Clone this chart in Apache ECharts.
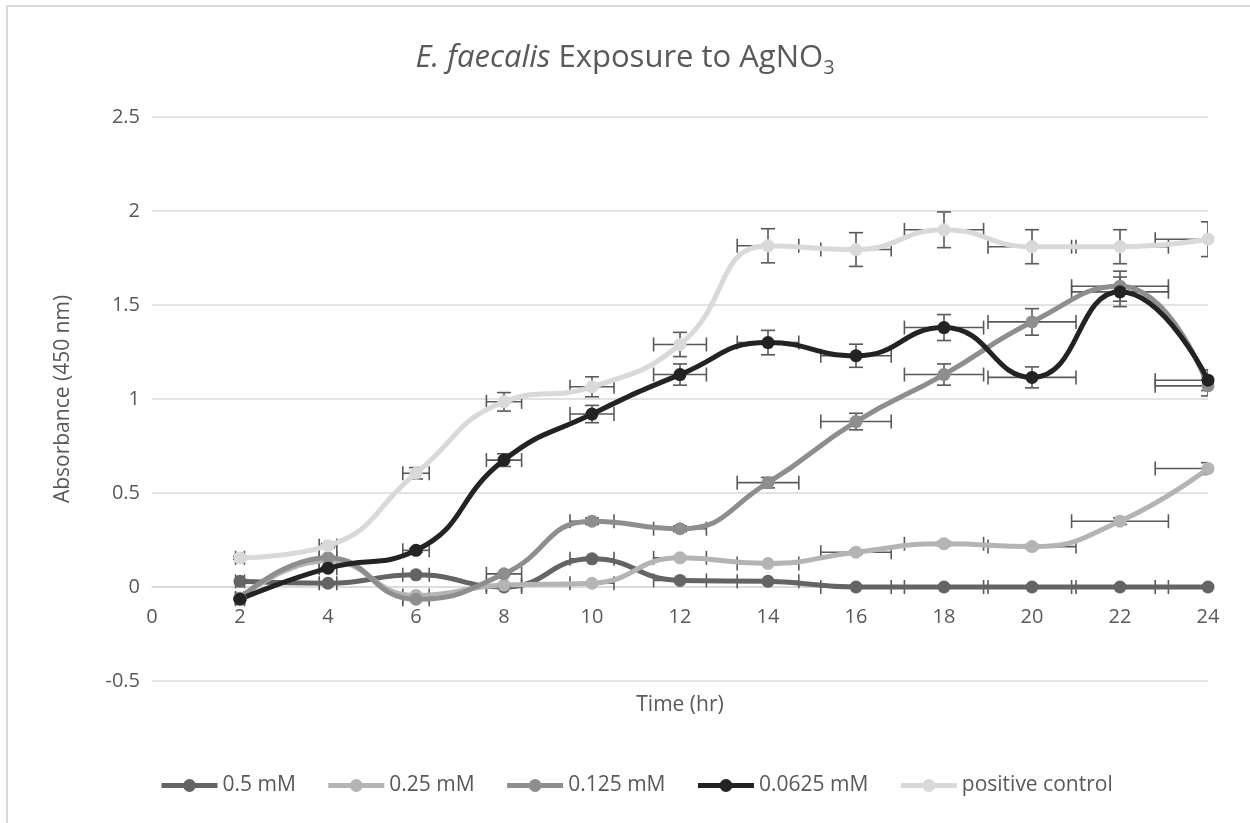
<!DOCTYPE html>
<html>
<head>
<meta charset="utf-8">
<script src="https://cdn.jsdelivr.net/npm/echarts@6/dist/echarts.min.js"></script>
<style>
  html, body { margin: 0; padding: 0; background: #fff; }
  #main { width: 1250px; height: 823px; }
</style>
</head>
<body>
<div id="main"></div>
<script>
// sampling times (hr)
const hours = [2, 4, 6, 8, 10, 12, 14, 16, 18, 20, 22, 24];

// absorbance at 450 nm
const conc05 = [0.03, 0.02, 0.065, 0.0, 0.15, 0.035, 0.03, 0.0, 0.0, 0.0, 0.0, 0.0];
const conc025 = [-0.06, 0.14, -0.045, 0.01, 0.02, 0.155, 0.125, 0.185, 0.23, 0.215, 0.35, 0.63];
const conc0125 = [-0.06, 0.155, -0.065, 0.07, 0.35, 0.31, 0.555, 0.88, 1.13, 1.41, 1.6, 1.07];
const conc00625 = [-0.065, 0.1, 0.195, 0.675, 0.92, 1.13, 1.3, 1.23, 1.38, 1.115, 1.57, 1.1];
const positive = [0.155, 0.22, 0.605, 0.985, 1.065, 1.29, 1.815, 1.795, 1.9, 1.81, 1.81, 1.85];

const seriesNames = ['0.5 mM', '0.25 mM', '0.125 mM', '0.0625 mM', 'positive control'];
const seriesValues = [conc05, conc025, conc0125, conc00625, positive];
const seriesColors = ['#646464', '#b4b4b4', '#8e8e8e', '#232323', '#d9d9d9'];

// error bars on both axes are a fixed percentage of the value (Excel "Percentage" error bars)
const errorPercent = 0.05;

const textColor = '#595959';
const font = 'Open Sans';

function pairs(values) {
  return hours.map((h, i) => [h, values[i]]);
}

function errorBars(name, values) {
  return {
    type: 'custom',
    name: name + ' error',
    data: pairs(values),
    clip: true,
    silent: true,
    renderItem: (params, api) => {
      const x = api.value(0);
      const y = api.value(1);
      const ex = Math.abs(x) * errorPercent;
      const ey = Math.abs(y) * errorPercent;
      const c = api.coord([x, y]);
      const left = api.coord([x - ex, y])[0];
      const right = api.coord([x + ex, y])[0];
      const top = api.coord([x, y + ey])[1];
      const bottom = api.coord([x, y - ey])[1];
      const cap = 7;
      const style = { stroke: '#595959', lineWidth: 1.6 };
      const children = [
        { type: 'line', shape: { x1: left, y1: c[1], x2: right, y2: c[1] }, style: style },
        { type: 'line', shape: { x1: left, y1: c[1] - cap, x2: left, y2: c[1] + cap }, style: style },
        { type: 'line', shape: { x1: right, y1: c[1] - cap, x2: right, y2: c[1] + cap }, style: style }
      ];
      if (bottom - top > 1) {
        children.push(
          { type: 'line', shape: { x1: c[0], y1: top, x2: c[0], y2: bottom }, style: style },
          { type: 'line', shape: { x1: c[0] - cap, y1: top, x2: c[0] + cap, y2: top }, style: style },
          { type: 'line', shape: { x1: c[0] - cap, y1: bottom, x2: c[0] + cap, y2: bottom }, style: style }
        );
      }
      return { type: 'group', children: children };
    }
  };
}

const series = [];
seriesNames.forEach((name, i) => {
  series.push({
    name: name,
    type: 'line',
    data: pairs(seriesValues[i]),
    smooth: 0.5,
    symbol: 'circle',
    symbolSize: 13,
    lineStyle: { width: 5, color: seriesColors[i] },
    itemStyle: { color: seriesColors[i] }
  });
  series.push(errorBars(name, seriesValues[i]));
});

const chart = echarts.init(document.getElementById('main'));
chart.setOption({
  backgroundColor: '#fff',
  animation: false,
  title: {
    text: '{it|E. faecalis} Exposure to AgNO{sub|3}',
    left: 'center',
    top: 33,
    textStyle: {
      fontFamily: font,
      fontSize: 31,
      fontWeight: 'normal',
      color: textColor,
      rich: {
        it: { fontFamily: font, fontSize: 31, fontStyle: 'italic', color: textColor },
        sub: { fontFamily: font, fontSize: 20, color: textColor, padding: [20, 0, 0, 0] }
      }
    }
  },
  legend: {
    data: seriesNames,
    top: 770,
    left: 154,
    itemWidth: 56,
    itemHeight: 16,
    itemGap: 30,
    lineStyle: { width: 5 },
    textStyle: { fontFamily: font, fontSize: 21, color: textColor }
  },
  grid: { left: 152, right: 42, top: 117, bottom: 142, containLabel: false },
  xAxis: {
    type: 'value',
    min: 0,
    max: 24,
    interval: 2,
    offset: -94,
    name: 'Time (hr)',
    nameLocation: 'middle',
    nameGap: 108,
    nameTextStyle: { fontFamily: font, fontSize: 21, color: textColor },
    axisLine: { onZero: false, lineStyle: { color: '#d9d9d9', width: 1.5 } },
    axisTick: { show: false },
    splitLine: { show: false },
    axisLabel: { fontFamily: font, fontSize: 20, color: textColor, margin: 20 }
  },
  yAxis: {
    type: 'value',
    min: -0.5,
    max: 2.5,
    interval: 0.5,
    name: 'Absorbance (450 nm)',
    nameLocation: 'middle',
    nameGap: 78,
    nameTextStyle: { fontFamily: font, fontSize: 21, color: textColor },
    axisLine: { show: false },
    axisTick: { show: false },
    splitLine: { lineStyle: { color: '#d9d9d9', width: 1.5 } },
    axisLabel: { fontFamily: font, fontSize: 20, color: textColor, margin: 12 }
  },
  graphic: [{
    type: 'rect',
    silent: true,
    shape: { x: 7, y: 6, width: 1400, height: 1000 },
    style: { fill: 'none', stroke: '#d9d9d9', lineWidth: 2 }
  }],
  series: series
});
</script>
</body>
</html>
